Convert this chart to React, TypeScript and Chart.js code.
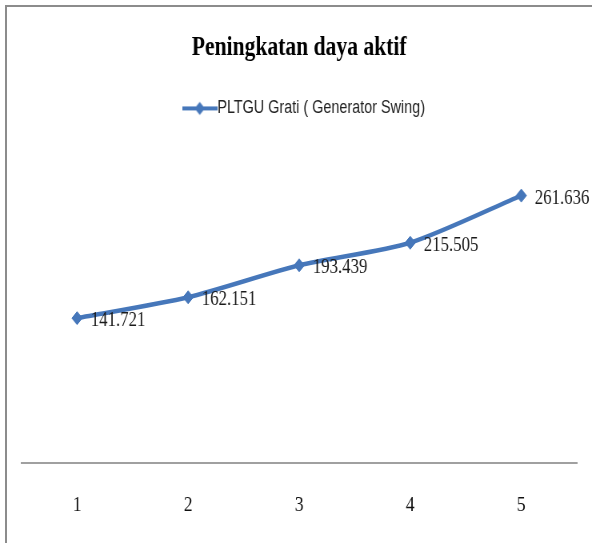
import React, { useEffect, useRef } from "react";
import { Chart, registerables } from "chart.js";

Chart.register(...registerables);

// ---- data ----
const categories = ["1", "2", "3", "4", "5"];
const seriesName = "PLTGU Grati ( Generator Swing)";
const values = [141.721, 162.151, 193.439, 215.505, 261.636];
const valueLabels = ["141.721", "162.151", "193.439", "215.505", "261.636"];
const titleText = "Peningkatan daya aktif";
const yMin = 0;
const yMax = 300;

// ---- style ----
const BLUE = "#4677ba";
const W = 592;
const H = 543;
const SX = 0.8; // the reference is squeezed horizontally
const IW = Math.round(W / SX);

function makeLegendMarker(): HTMLCanvasElement {
  const c = document.createElement("canvas");
  c.width = 44;
  c.height = 16;
  const g = c.getContext("2d")!;
  g.strokeStyle = BLUE;
  g.lineWidth = 4;
  g.beginPath();
  g.moveTo(0, 8);
  g.lineTo(44, 8);
  g.stroke();
  g.fillStyle = BLUE;
  g.beginPath();
  g.moveTo(22, 1.5);
  g.lineTo(28.5, 8);
  g.lineTo(22, 14.5);
  g.lineTo(15.5, 8);
  g.closePath();
  g.fill();
  return c;
}

const legendSpacer = {
  id: "legendSpacer",
  beforeInit(chart: any) {
    const lg = chart.legend;
    if (!lg) return;
    const origFit = lg.fit;
    lg.fit = function () {
      origFit.call(this);
      this.height += 29;
    };
    const origDraw = lg.draw;
    lg.draw = function (...args: any[]) {
      const ctx = this.ctx;
      ctx.save();
      ctx.translate(10, 0);
      origDraw.apply(this, args);
      ctx.restore();
    };
  },
};

const dataLabels = {
  id: "dataLabels",
  afterDatasetsDraw(chart: any) {
    const ctx = chart.ctx;
    const meta = chart.getDatasetMeta(0);
    ctx.save();
    ctx.font = '21px "Liberation Serif"';
    ctx.fillStyle = "#1a1a1a";
    ctx.textAlign = "left";
    ctx.textBaseline = "alphabetic";
    meta.data.forEach((pt: any, i: number) => {
      ctx.fillText(valueLabels[i], pt.x + 17, pt.y + 8);
    });
    ctx.restore();
  },
};

export default function App() {
  const ref = useRef<HTMLCanvasElement | null>(null);

  useEffect(() => {
    if (!ref.current) return;
    const marker = makeLegendMarker();
    const chart = new Chart(ref.current, {
      type: "line",
      data: {
        labels: categories,
        datasets: [
          {
            label: seriesName,
            data: values,
            borderColor: BLUE,
            backgroundColor: BLUE,
            borderWidth: 4.5,
            tension: 0.25,
            pointStyle: "rectRot",
            pointRadius: 6.5,
            pointBorderWidth: 1,
            pointBackgroundColor: BLUE,
            pointBorderColor: BLUE,
          },
        ],
      },
      options: {
        responsive: false,
        animation: false,
        devicePixelRatio: 1,
        layout: { padding: { left: 27, right: 19, top: 0, bottom: 0 } },
        plugins: {
          title: {
            display: true,
            text: titleText,
            color: "#000",
            font: { family: '"Liberation Serif"', size: 27, weight: "bold" },
            padding: { top: 32, bottom: 25 },
          },
          legend: {
            display: true,
            position: "top",
            labels: {
              usePointStyle: true,
              pointStyle: marker as any,
              pointStyleWidth: 26,
              color: "#222",
              font: { family: '"Liberation Sans"', size: 18 },
              padding: 10,
            },
          },
          tooltip: { enabled: false },
        },
        scales: {
          x: {
            type: "category",
            offset: true,
            grid: { display: true, color: "rgba(0,0,0,0)", drawTicks: false },
            border: { display: true, color: "#a0a0a0", width: 2 },
            ticks: {
              color: "#111",
              padding: 29,
              font: { family: '"Liberation Serif"', size: 22 },
            },
            afterFit: (scale: any) => {
              scale.height = 80;
            },
          },
          y: {
            display: false,
            min: yMin,
            max: yMax,
          },
        },
      },
      plugins: [legendSpacer, dataLabels],
    });
    return () => chart.destroy();
  }, []);

  return (
    <div style={{ position: "absolute", left: 0, top: 0, width: W, height: H, background: "#fff" }}>
      <canvas
        ref={ref}
        width={IW}
        height={H}
        style={{ width: W + "px", height: H + "px", display: "block" }}
      />
      <div
        style={{
          position: "absolute",
          left: 5,
          top: 5,
          width: W - 5,
          height: H - 5,
          boxSizing: "border-box",
          borderTop: "2px solid #8c8c8c",
          borderLeft: "2px solid #8c8c8c",
          pointerEvents: "none",
        }}
      />
    </div>
  );
}
